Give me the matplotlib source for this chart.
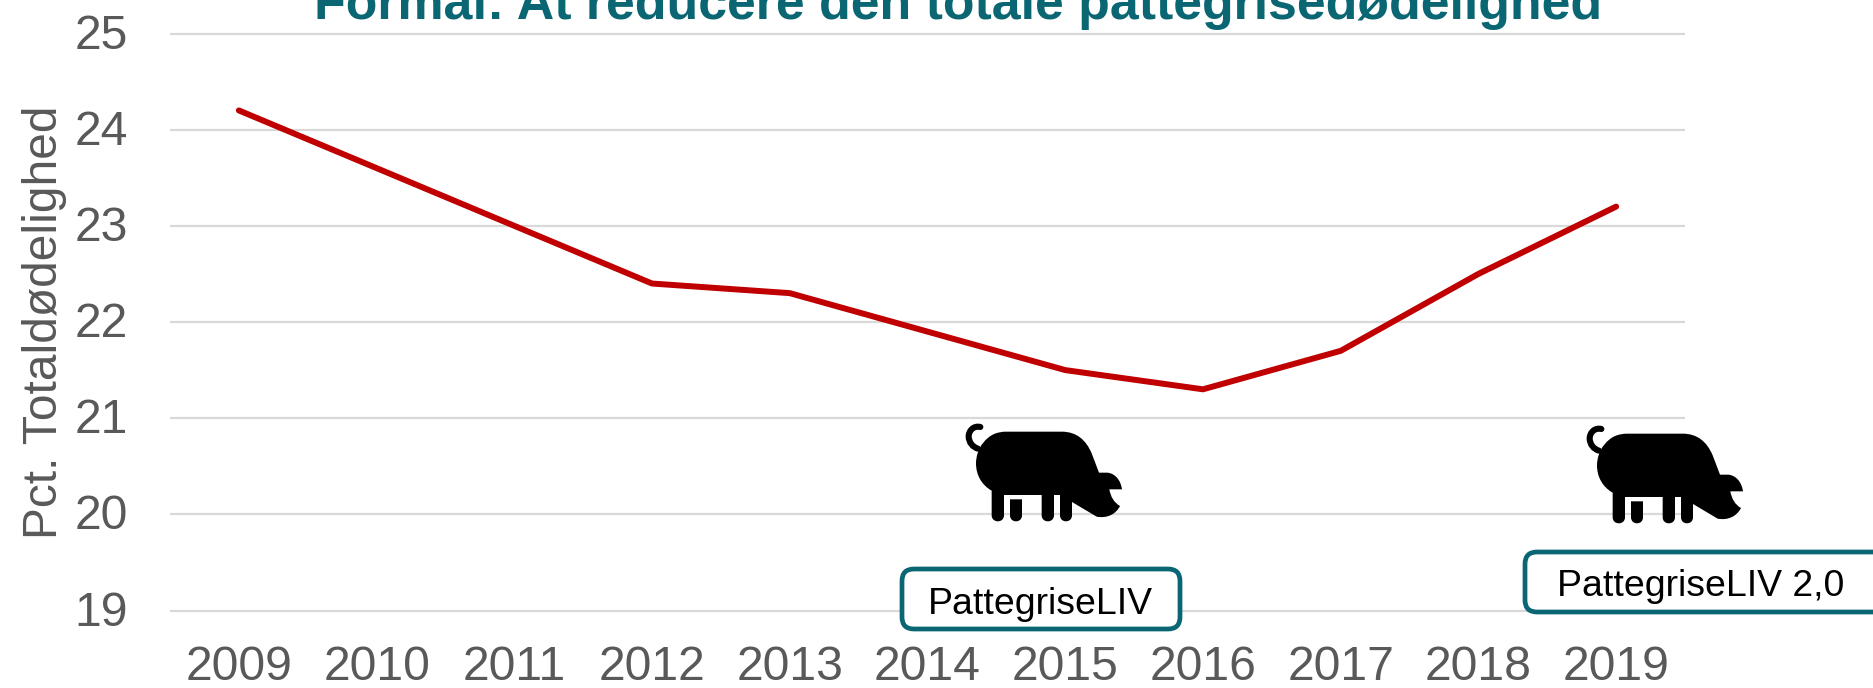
import matplotlib
matplotlib.use("Agg")
import matplotlib.pyplot as plt
from matplotlib.path import Path
from matplotlib.patches import PathPatch, FancyBboxPatch
from matplotlib.transforms import Affine2D

plt.rcParams['font.family'] = ['Liberation Sans', 'DejaVu Sans']

years = ['2009', '2010', '2011', '2012', '2013', '2014', '2015', '2016', '2017', '2018', '2019']
mortality = [24.2, 23.6, 23.0, 22.4, 22.3, 21.9, 21.5, 21.3, 21.7, 22.5, 23.2]
y_ticks = [19, 20, 21, 22, 23, 24, 25]
title = 'Formål: At reducere den totale pattegrisedødelighed'
y_label = 'Pct. Totaldødelighed'
labels = ['PattegriseLIV', 'PattegriseLIV 2,0']

W, H = 1873, 688
GREY = '#595959'
TEAL = '#0A6672'
fig = plt.figure(figsize=(W / 100, H / 100), dpi=100, facecolor='white')
ax = fig.add_axes([170 / W, 1 - 610.5 / H, (1685 - 170) / W, (610.5 - 33.5) / H])
ax.plot(range(len(years)), mortality, color='#C00000', lw=4.3, solid_capstyle='round', solid_joinstyle='round', zorder=3)
ax.set_xlim(-0.5, len(years) - 0.5)
ax.set_ylim(19, 25)
ax.set_xticks(range(len(years)), years)
ax.set_yticks(y_ticks)
ax.grid(axis='y', color='#D9D9D9', lw=1.6, clip_on=False, solid_capstyle='butt')
ax.set_axisbelow(True)
for s in ax.spines.values():
    s.set_visible(False)
ax.tick_params(length=0, labelcolor=GREY, labelsize=34.7)
ax.tick_params(axis='x', pad=25)
ax.tick_params(axis='y', pad=30)
for gl in ax.get_ygridlines():
    gl.set_clip_on(False)
for lab in ax.get_yticklabels():
    lab.set_transform(lab.get_transform() + Affine2D().translate(0, 2.4))

fig.text(958 / W, 1 - 19 / H, title, color=TEAL, fontsize=37.4, fontweight='bold', ha='center', va='baseline')
fig.text(45 / W, 1 - 322 / H, y_label, color=GREY, fontsize=34.5, rotation=90, ha='center', va='center')

# decorative pig icon, outline in zoomed-crop units
M, L, C, Z = Path.MOVETO, Path.LINETO, Path.CURVE4, Path.CLOSEPOLY
body = [
    (M, [(250, 128)]),
    (C, [(268, 105), (290, 95), (320, 95)]),
    (L, [(485, 95)]),
    (C, [(530, 95), (558, 120), (575, 160)]),
    (L, [(597, 218)]),
    (L, [(622, 218)]),
    (C, [(645, 220), (662, 240), (666, 268)]),
    (L, [(628, 268)]),
    (C, [(632, 290), (642, 308), (660, 318)]),
    (C, [(648, 342), (622, 356), (590, 350)]),
    (L, [(516, 306)]),
    (L, [(516, 346)]),
    (C, [(516, 370), (480, 370), (480, 346)]),
    (L, [(480, 285)]),
    (L, [(462, 285)]),
    (L, [(462, 346)]),
    (C, [(462, 370), (425, 370), (425, 346)]),
    (L, [(425, 285)]),
    (L, [(312, 285)]),
    (L, [(312, 346)]),
    (C, [(312, 370), (275, 370), (275, 346)]),
    (L, [(275, 272)]),
    (C, [(245, 255), (228, 225), (228, 190)]),
    (C, [(228, 170), (235, 145), (250, 128)]),
    (Z, [(250, 128)]),
    (M, [(330, 298)]),
    (L, [(366, 298)]),
    (L, [(366, 346)]),
    (C, [(366, 370), (330, 370), (330, 346)]),
    (Z, [(330, 298)]),
]
verts, codes = [], []
for code, pts in body:
    if code == C:
        verts += pts
        codes += [Path.CURVE4] * 3
    else:
        verts += pts
        codes += [code]
pig = Path(verts, codes)
tail = Path([(241, 81), (221, 76), (206, 92), (206, 110), (207, 128), (218, 141), (234, 146)],
            [Path.MOVETO] + [Path.CURVE4] * 6)


def px(dx, dy):
    return Affine2D().scale(1 / 3, -1 / 3).translate(900 + dx, H - 400 - dy)


for dx, dy in [(0, 0), (621, 2)]:
    fig.add_artist(PathPatch(pig, fc='black', ec='none', transform=px(dx, dy)))
    fig.add_artist(PathPatch(tail, fc='none', ec='black', lw=4.4, capstyle='round', transform=px(dx, dy)))

boxes = [(902, 569, 1180, 629), (1525, 552, 1890, 612)]
for lab, (x0, y0, x1, y1) in zip(labels, boxes):
    b = FancyBboxPatch((x0 + 10, H - y1 + 10), x1 - x0 - 20, y1 - y0 - 20,
                       boxstyle='round,pad=10,rounding_size=12', fc='white', ec=TEAL, lw=3.4,
                       transform=Affine2D(), zorder=5)
    fig.add_artist(b)
centers = [(1040, 600), (1701, 583)]
for lab, (cx, cy) in zip(labels, centers):
    fig.text(cx / W, 1 - cy / H, lab, color='black', fontsize=26.9, ha='center', va='center_baseline', zorder=6)

fig.savefig('out.png', dpi=100)
